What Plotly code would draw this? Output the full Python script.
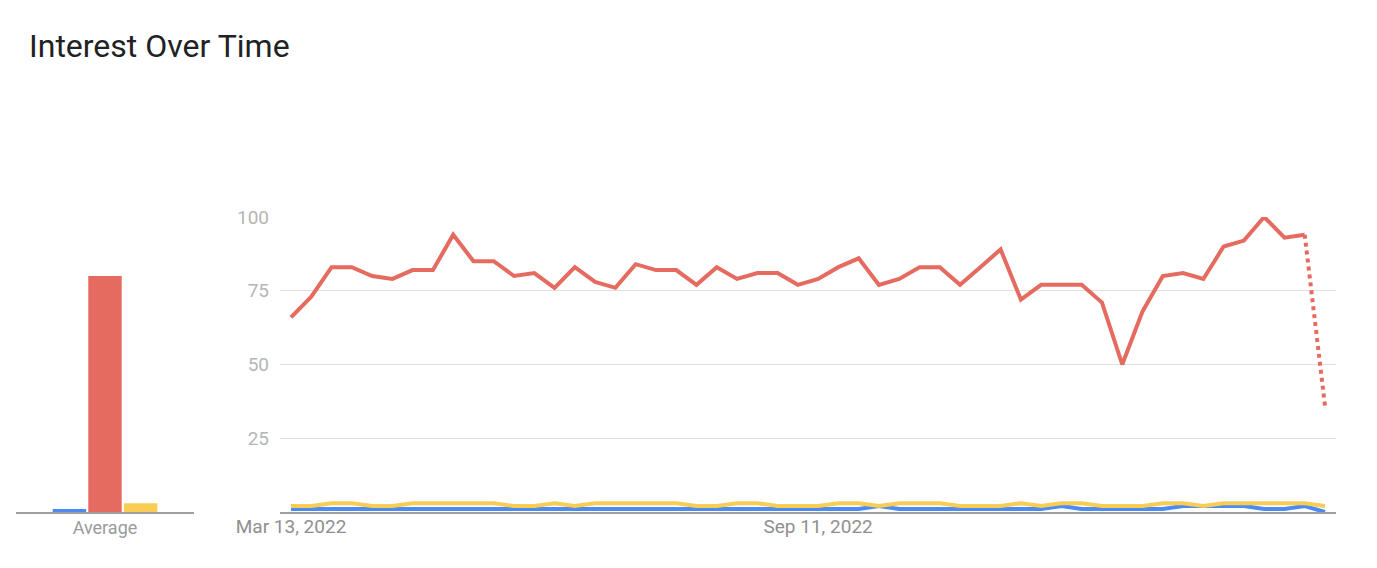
import pandas as pd
import plotly.graph_objects as go

# ---- data ----
start_date = "2022-03-13"
n_weeks = 52
dates = pd.date_range(start_date, periods=n_weeks, freq="7D")

red_values = [66, 73, 83, 83, 80, 79, 82, 82, 94, 85, 85, 80, 81, 76, 83, 78,
              76, 84, 82, 82, 77, 83, 79, 81, 81, 77, 79, 83, 86, 77, 79, 83,
              83, 77, 83, 89, 72, 77, 77, 77, 71, 50, 68, 80, 81, 79, 90, 92,
              100, 93, 94, 36]
yellow_values = [2, 2, 3, 3, 2, 2, 3, 3, 3, 3, 3, 2, 2, 3, 2, 3,
                 3, 3, 3, 3, 2, 2, 3, 3, 2, 2, 2, 3, 3, 2, 3, 3,
                 3, 2, 2, 2, 3, 2, 3, 3, 2, 2, 2, 3, 3, 2, 3, 3,
                 3, 3, 3, 2]
blue_values = [1, 1, 1, 1, 1, 1, 1, 1, 1, 1, 1, 1, 1, 1, 1, 1,
               1, 1, 1, 1, 1, 1, 1, 1, 1, 1, 1, 1, 1, 2, 1, 1,
               1, 1, 1, 1, 1, 1, 2, 1, 1, 1, 1, 1, 2, 2, 2, 2,
               1, 1, 2, 0]

avg_category = ["Average"]
avg_blue = [1]
avg_red = [80]
avg_yellow = [3]

tick_dates = ["2022-03-13", "2022-09-11"]
tick_labels = ["Mar 13, 2022", "Sep 11, 2022"]
y_ticks = [25, 50, 75, 100]

# ---- styles ----
BLUE = "#4b8bf2"
RED = "#e56b60"
YELLOW = "#f8cd55"
W, H = 1377, 568
OFF = 8  # page body margin

def px_x(p):
    return (p - OFF) / W

def px_y(p):
    return 1 - (p - OFF) / H

fig = go.Figure()

# bars (Average)
for vals, col in [(avg_blue, BLUE), (avg_red, RED), (avg_yellow, YELLOW)]:
    fig.add_trace(go.Bar(x=avg_category, y=vals, marker=dict(color=col, line=dict(width=0)),
                         xaxis="x", yaxis="y", showlegend=False, hoverinfo="skip"))

# lines
solid_dates = dates[:-1]
fig.add_trace(go.Scatter(x=dates, y=blue_values, mode="lines",
                         line=dict(color=BLUE, width=4), xaxis="x2", yaxis="y2",
                         showlegend=False))
fig.add_trace(go.Scatter(x=dates, y=yellow_values, mode="lines",
                         line=dict(color=YELLOW, width=4), xaxis="x2", yaxis="y2",
                         showlegend=False))
fig.add_trace(go.Scatter(x=solid_dates, y=red_values[:-1], mode="lines",
                         line=dict(color=RED, width=4), xaxis="x2", yaxis="y2",
                         showlegend=False))
fig.add_trace(go.Scatter(x=dates[-2:], y=red_values[-2:], mode="lines",
                         line=dict(color=RED, width=4, dash="dot"), xaxis="x2", yaxis="y2",
                         showlegend=False))

pad = pd.Timedelta(days=3.8)
y_dom = [px_y(512), px_y(217)]

fig.update_layout(
    width=W, height=H,
    margin=dict(l=0, r=0, t=0, b=0, autoexpand=False),
    paper_bgcolor="white", plot_bgcolor="white",
    font=dict(family="Roboto, Arial, sans-serif"),
    barmode="group", bargap=0.40, bargroupgap=0.06,
    title=dict(text="Interest Over Time", x=px_x(29), xanchor="left",
               y=px_y(46), yanchor="middle", automargin=False,
               font=dict(size=32, color="#202124", family="Roboto, Arial, sans-serif")),
    xaxis=dict(domain=[px_x(16), px_x(194)], showline=True, linecolor="#9e9e9e",
               linewidth=1.5, ticks="", showgrid=False, automargin=False,
               ticklabelstandoff=-1,
               tickfont=dict(size=18, color="#9a9a9a"), fixedrange=True),
    yaxis=dict(domain=y_dom, range=[0, 100], visible=False, fixedrange=True,
               automargin=False),
    xaxis2=dict(domain=[px_x(280), px_x(1336)], anchor="y2", automargin=False,
                range=[dates[0] - pad, dates[-1] + pad],
                tickvals=pd.to_datetime(tick_dates), ticktext=tick_labels,
                showline=True, linecolor="#9e9e9e", linewidth=1.5, showgrid=False,
                ticks="", ticklabelstandoff=-4,
                tickfont=dict(size=19, color="#8f8f8f"), zeroline=False),
    yaxis2=dict(domain=y_dom, anchor="x2", range=[0, 100], automargin=False,
                tickvals=y_ticks, showgrid=True, gridcolor="#e0e0e0", gridwidth=1,
                zeroline=False, showline=False, ticks="", ticklabelstandoff=10,
                tickfont=dict(size=19, color="#b5b5b5")),
)

fig.write_html("out.html")
